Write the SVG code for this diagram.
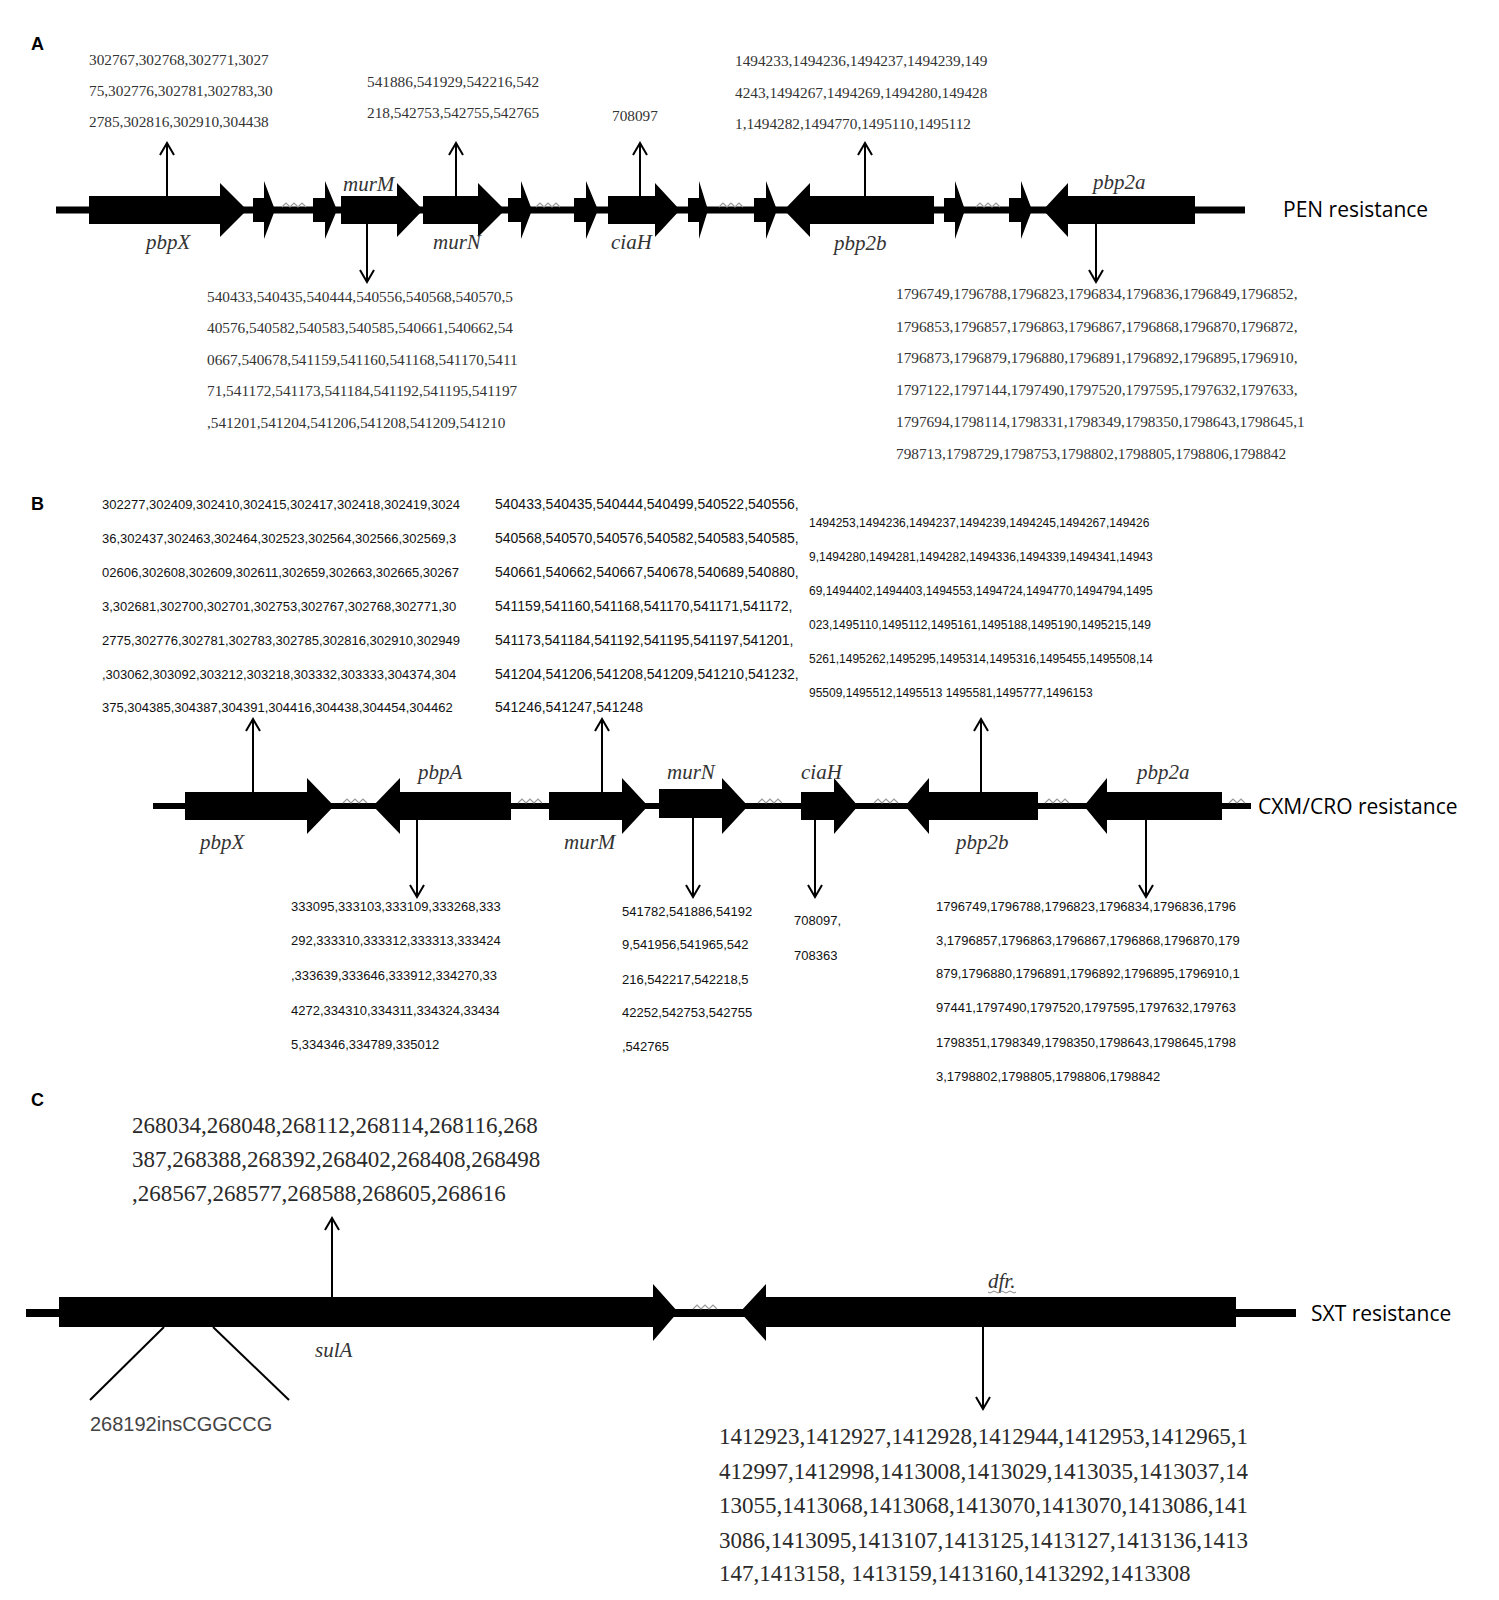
<svg xmlns="http://www.w3.org/2000/svg" width="1499" height="1600" viewBox="0 0 1499 1600">
<defs>
<style>
.panel{font-family:"Liberation Sans",Arial,sans-serif;font-weight:bold;font-size:18px;fill:#000}
.na{font-family:"Liberation Serif","Times New Roman",serif;font-size:15.3px;fill:#333}
.nb{font-family:"Liberation Sans",Arial,sans-serif;font-size:13px;fill:#111}
.nc{font-family:"Liberation Serif","Times New Roman",serif;font-size:23px;fill:#2a2a2a}
.gene{font-family:"Liberation Serif","Times New Roman",serif;font-style:italic;font-size:21px;fill:#333}
.res{font-family:"Open Sans","Liberation Sans",sans-serif;font-size:21px;fill:#000}
.ins{font-family:"Liberation Sans",Arial,sans-serif;font-size:20px;fill:#444}
.bb{stroke:#000;fill:none}
.g{fill:#000}
.conn{stroke:#000;stroke-width:2;fill:none;marker-end:url(#ah)}
.plain{stroke:#000;stroke-width:2;fill:none}
.gap{stroke:#999;stroke-width:1.2;fill:none}
</style>
<marker id="ah" markerUnits="userSpaceOnUse" markerWidth="18" markerHeight="18" refX="13" refY="8" orient="auto" overflow="visible">
<path d="M1,1 L13,8 L1,15" fill="none" stroke="#000" stroke-width="2"/>
</marker>
<clipPath id="clipB"><rect x="0" y="880" width="1246" height="220"/></clipPath>
</defs>
<rect width="1499" height="1600" fill="#fff"/>

<!-- Panel labels -->
<text class="panel" x="31" y="50">A</text>
<text class="panel" x="31" y="510">B</text>
<text class="panel" x="31" y="1106">C</text>

<!-- Backbones -->
<g id="backbones">
<line class="bb" x1="56" y1="210" x2="1245" y2="210" stroke-width="7"/>
<line class="bb" x1="153" y1="806" x2="1251" y2="806" stroke-width="6"/>
<line class="bb" x1="26" y1="1313" x2="1296" y2="1313" stroke-width="8"/>
</g>

<!-- Panel A genes -->
<g id="geneA-pbpX"><polygon class="g" points="89,196 220,196 220,183 247,210 220,237 220,224 89,224"/><text class="gene" x="146" y="249">pbpX</text></g>
<g id="geneA-s1"><polygon class="g" points="253,198 264,198 264,181 275,210 264,239 264,222 253,222"/></g>
<g id="geneA-s2"><polygon class="g" points="313,198 325,198 325,181 337,210 325,239 325,222 313,222"/></g>
<g id="geneA-murM"><polygon class="g" points="341,196 397,196 397,183 423,210 397,237 397,224 341,224"/><text class="gene" x="343" y="191">murM</text></g>
<g id="geneA-murN"><polygon class="g" points="423,196 478,196 478,183 505,210 478,237 478,224 423,224"/><text class="gene" x="433" y="249">murN</text></g>
<g id="geneA-s3"><polygon class="g" points="508,198 521,198 521,181 532,210 521,239 521,222 508,222"/></g>
<g id="geneA-s4"><polygon class="g" points="574,198 586,198 586,181 598,210 586,239 586,222 574,222"/></g>
<g id="geneA-ciaH"><polygon class="g" points="608,196 655,196 655,183 680,210 655,237 655,224 608,224"/><text class="gene" x="611" y="249">ciaH</text></g>
<g id="geneA-s5"><polygon class="g" points="688,198 699,198 699,181 708,210 699,239 699,222 688,222"/></g>
<g id="geneA-s6"><polygon class="g" points="754,198 766,198 766,181 777,210 766,239 766,222 754,222"/></g>
<g id="geneA-pbp2b"><polygon class="g" points="934,196 810,196 810,183 784,210 810,237 810,224 934,224"/><text class="gene" x="834" y="250">pbp2b</text></g>
<g id="geneA-s7"><polygon class="g" points="944,198 955,198 955,181 965,210 955,239 955,222 944,222"/></g>
<g id="geneA-s8"><polygon class="g" points="1009,198 1021,198 1021,181 1032,210 1021,239 1021,222 1009,222"/></g>
<g id="geneA-pbp2a"><polygon class="g" points="1195,196 1068,196 1068,183 1043,210 1068,237 1068,224 1195,224"/><text class="gene" x="1093" y="189">pbp2a</text></g>
<g id="labelA"><text class="res" x="1283" y="217">PEN resistance</text></g>

<!-- Panel B genes -->
<g id="geneB-pbpX"><polygon class="g" points="185,792 307,792 307,778 334,806 307,834 307,820 185,820"/><text class="gene" x="200" y="849">pbpX</text></g>
<g id="geneB-pbpA"><polygon class="g" points="511,792 400,792 400,778 373,806 400,834 400,820 511,820"/><text class="gene" x="418" y="779">pbpA</text></g>
<g id="geneB-murM"><polygon class="g" points="549,792 622,792 622,778 648,806 622,834 622,820 549,820"/><text class="gene" x="564" y="849">murM</text></g>
<g id="geneB-murN"><polygon class="g" points="659,789 722,789 722,778 748,806 722,834 722,818 659,818"/><text class="gene" x="667" y="779">murN</text></g>
<g id="geneB-ciaH"><polygon class="g" points="801,792 834,792 834,778 858,806 834,834 834,820 801,820"/><text class="gene" x="801" y="779">ciaH</text></g>
<g id="geneB-pbp2b"><polygon class="g" points="1038,792 929,792 929,778 905,806 929,834 929,820 1038,820"/><text class="gene" x="956" y="849">pbp2b</text></g>
<g id="geneB-pbp2a"><polygon class="g" points="1222,792 1107,792 1107,778 1084,806 1107,834 1107,820 1222,820"/><text class="gene" x="1137" y="779">pbp2a</text></g>
<g id="labelB"><text class="res" x="1258" y="814">CXM/CRO resistance</text></g>

<!-- Panel C genes -->
<g id="geneC-sulA"><polygon class="g" points="59,1297 653,1297 653,1284 678,1312 653,1341 653,1327 59,1327"/><text class="gene" x="315" y="1357">sulA</text></g>
<g id="geneC-dfr"><polygon class="g" points="1236,1297 766,1297 766,1284 740,1312 766,1341 766,1327 1236,1327"/><text class="gene" x="988" y="1288">dfr.</text><path d="M988,1292 q2,2 4,0 q2,-2 4,0 q2,2 4,0 q2,-2 4,0 q2,2 4,0 q2,-2 4,0 q2,2 4,0" stroke="#888" stroke-width="1" fill="none"/></g>
<g id="labelC"><text class="res" x="1311" y="1321">SXT resistance</text></g>

<!-- gap markers -->
<g id="gaps">
<path class="gap" d="M282,207 l4,-4 l4,4 l4,-4 l4,4 l4,-4 l4,4"/>
<path class="gap" d="M536,207 l4,-4 l4,4 l4,-4 l4,4 l4,-4 l4,4"/>
<path class="gap" d="M719,207 l4,-4 l4,4 l4,-4 l4,4 l4,-4 l4,4"/>
<path class="gap" d="M976,207 l4,-4 l4,4 l4,-4 l4,4 l4,-4 l4,4"/>
<path class="gap" d="M343,803 l4,-4 l4,4 l4,-4 l4,4 l4,-4 l4,4"/>
<path class="gap" d="M518,803 l4,-4 l4,4 l4,-4 l4,4 l4,-4 l4,4"/>
<path class="gap" d="M758,803 l4,-4 l4,4 l4,-4 l4,4 l4,-4 l4,4"/>
<path class="gap" d="M874,803 l4,-4 l4,4 l4,-4 l4,4 l4,-4 l4,4"/>
<path class="gap" d="M1045,803 l4,-4 l4,4 l4,-4 l4,4 l4,-4 l4,4"/>
<path class="gap" d="M1229,803 l4,-4 l4,4 l4,-4 l4,4"/>
<path class="gap" d="M693,1309 l4,-4 l4,4 l4,-4 l4,4 l4,-4 l4,4"/>
</g>

<!-- connectors -->
<g id="connectors">
<line class="conn" x1="167" y1="196" x2="167" y2="143"/>
<line class="conn" x1="456" y1="196" x2="456" y2="143"/>
<line class="conn" x1="640" y1="196" x2="640" y2="143"/>
<line class="conn" x1="865" y1="196" x2="865" y2="143"/>
<line class="conn" x1="367" y1="224" x2="367" y2="282"/>
<line class="conn" x1="1096" y1="224" x2="1096" y2="282"/>
<line class="conn" x1="253" y1="792" x2="253" y2="719"/>
<line class="conn" x1="602" y1="792" x2="602" y2="719"/>
<line class="conn" x1="981" y1="792" x2="981" y2="719"/>
<line class="conn" x1="417" y1="820" x2="417" y2="897"/>
<line class="conn" x1="693" y1="818" x2="693" y2="897"/>
<line class="conn" x1="815" y1="820" x2="815" y2="897"/>
<line class="conn" x1="1146" y1="820" x2="1146" y2="897"/>
<line class="conn" x1="332" y1="1297" x2="332" y2="1218"/>
<line class="conn" x1="983" y1="1327" x2="983" y2="1409"/>
<line class="plain" x1="164" y1="1327" x2="90" y2="1400"/>
<line class="plain" x1="213" y1="1327" x2="289" y2="1400"/>
</g>

<!-- Panel A numbers -->
<g id="textA">
<text class="na" x="89" y="65">302767,302768,302771,3027</text>
<text class="na" x="89" y="96">75,302776,302781,302783,30</text>
<text class="na" x="89" y="127">2785,302816,302910,304438</text>
<text class="na" x="367" y="87">541886,541929,542216,542</text>
<text class="na" x="367" y="118">218,542753,542755,542765</text>
<text class="na" x="612" y="121">708097</text>
<text class="na" x="735" y="66">1494233,1494236,1494237,1494239,149</text>
<text class="na" x="735" y="98">4243,1494267,1494269,1494280,149428</text>
<text class="na" x="735" y="129">1,1494282,1494770,1495110,1495112</text>
<text class="na" x="207" y="302">540433,540435,540444,540556,540568,540570,5</text>
<text class="na" x="207" y="333">40576,540582,540583,540585,540661,540662,54</text>
<text class="na" x="207" y="365">0667,540678,541159,541160,541168,541170,5411</text>
<text class="na" x="207" y="396">71,541172,541173,541184,541192,541195,541197</text>
<text class="na" x="207" y="428">,541201,541204,541206,541208,541209,541210</text>
<text class="na" x="896" y="299">1796749,1796788,1796823,1796834,1796836,1796849,1796852,</text>
<text class="na" x="896" y="332">1796853,1796857,1796863,1796867,1796868,1796870,1796872,</text>
<text class="na" x="896" y="363">1796873,1796879,1796880,1796891,1796892,1796895,1796910,</text>
<text class="na" x="896" y="395">1797122,1797144,1797490,1797520,1797595,1797632,1797633,</text>
<text class="na" x="896" y="427">1797694,1798114,1798331,1798349,1798350,1798643,1798645,1</text>
<text class="na" x="896" y="459">798713,1798729,1798753,1798802,1798805,1798806,1798842</text>
</g>

<!-- Panel B numbers -->
<g id="textB">
<text class="nb" x="102" y="509">302277,302409,302410,302415,302417,302418,302419,3024</text>
<text class="nb" x="102" y="543">36,302437,302463,302464,302523,302564,302566,302569,3</text>
<text class="nb" x="102" y="577">02606,302608,302609,302611,302659,302663,302665,30267</text>
<text class="nb" x="102" y="611">3,302681,302700,302701,302753,302767,302768,302771,30</text>
<text class="nb" x="102" y="645">2775,302776,302781,302783,302785,302816,302910,302949</text>
<text class="nb" x="102" y="679">,303062,303092,303212,303218,303332,303333,304374,304</text>
<text class="nb" x="102" y="712">375,304385,304387,304391,304416,304438,304454,304462</text>
<text class="nb" x="495" y="509" style="font-size:14px">540433,540435,540444,540499,540522,540556,</text>
<text class="nb" x="495" y="543" style="font-size:14px">540568,540570,540576,540582,540583,540585,</text>
<text class="nb" x="495" y="577" style="font-size:14px">540661,540662,540667,540678,540689,540880,</text>
<text class="nb" x="495" y="611" style="font-size:14px">541159,541160,541168,541170,541171,541172,</text>
<text class="nb" x="495" y="645" style="font-size:14px">541173,541184,541192,541195,541197,541201,</text>
<text class="nb" x="495" y="679" style="font-size:14px">541204,541206,541208,541209,541210,541232,</text>
<text class="nb" x="495" y="712" style="font-size:14px">541246,541247,541248</text>
<text class="nb" x="809" y="527" style="font-size:12px">1494253,1494236,1494237,1494239,1494245,1494267,149426</text>
<text class="nb" x="809" y="561" style="font-size:12px">9,1494280,1494281,1494282,1494336,1494339,1494341,14943</text>
<text class="nb" x="809" y="595" style="font-size:12px">69,1494402,1494403,1494553,1494724,1494770,1494794,1495</text>
<text class="nb" x="809" y="629" style="font-size:12px">023,1495110,1495112,1495161,1495188,1495190,1495215,149</text>
<text class="nb" x="809" y="663" style="font-size:12px">5261,1495262,1495295,1495314,1495316,1495455,1495508,14</text>
<text class="nb" x="809" y="697" style="font-size:12px">95509,1495512,1495513 1495581,1495777,1496153</text>
<text class="nb" x="291" y="911">333095,333103,333109,333268,333</text>
<text class="nb" x="291" y="945">292,333310,333312,333313,333424</text>
<text class="nb" x="291" y="980">,333639,333646,333912,334270,33</text>
<text class="nb" x="291" y="1015">4272,334310,334311,334324,33434</text>
<text class="nb" x="291" y="1049">5,334346,334789,335012</text>
<text class="nb" x="622" y="916">541782,541886,54192</text>
<text class="nb" x="622" y="949">9,541956,541965,542</text>
<text class="nb" x="622" y="984">216,542217,542218,5</text>
<text class="nb" x="622" y="1017">42252,542753,542755</text>
<text class="nb" x="622" y="1051">,542765</text>
<text class="nb" x="794" y="925">708097,</text>
<text class="nb" x="794" y="960">708363</text>
<g clip-path="url(#clipB)">
<text class="nb" x="936" y="911">1796749,1796788,1796823,1796834,1796836,1796</text>
<text class="nb" x="936" y="945">3,1796857,1796863,1796867,1796868,1796870,179</text>
<text class="nb" x="936" y="978">879,1796880,1796891,1796892,1796895,1796910,1</text>
<text class="nb" x="936" y="1012">97441,1797490,1797520,1797595,1797632,179763</text>
<text class="nb" x="936" y="1047">1798351,1798349,1798350,1798643,1798645,1798</text>
<text class="nb" x="936" y="1081">3,1798802,1798805,1798806,1798842</text>
</g>
</g>

<!-- Panel C numbers -->
<g id="textC">
<text class="nc" x="132" y="1133">268034,268048,268112,268114,268116,268</text>
<text class="nc" x="132" y="1167">387,268388,268392,268402,268408,268498</text>
<text class="nc" x="132" y="1201">,268567,268577,268588,268605,268616</text>
<text class="nc" x="719" y="1444">1412923,1412927,1412928,1412944,1412953,1412965,1</text>
<text class="nc" x="719" y="1479">412997,1412998,1413008,1413029,1413035,1413037,14</text>
<text class="nc" x="719" y="1513">13055,1413068,1413068,1413070,1413070,1413086,141</text>
<text class="nc" x="719" y="1548">3086,1413095,1413107,1413125,1413127,1413136,1413</text>
<text class="nc" x="719" y="1581">147,1413158, 1413159,1413160,1413292,1413308</text>
<text class="ins" x="90" y="1431">268192insCGGCCG</text>
</g>
</svg>
